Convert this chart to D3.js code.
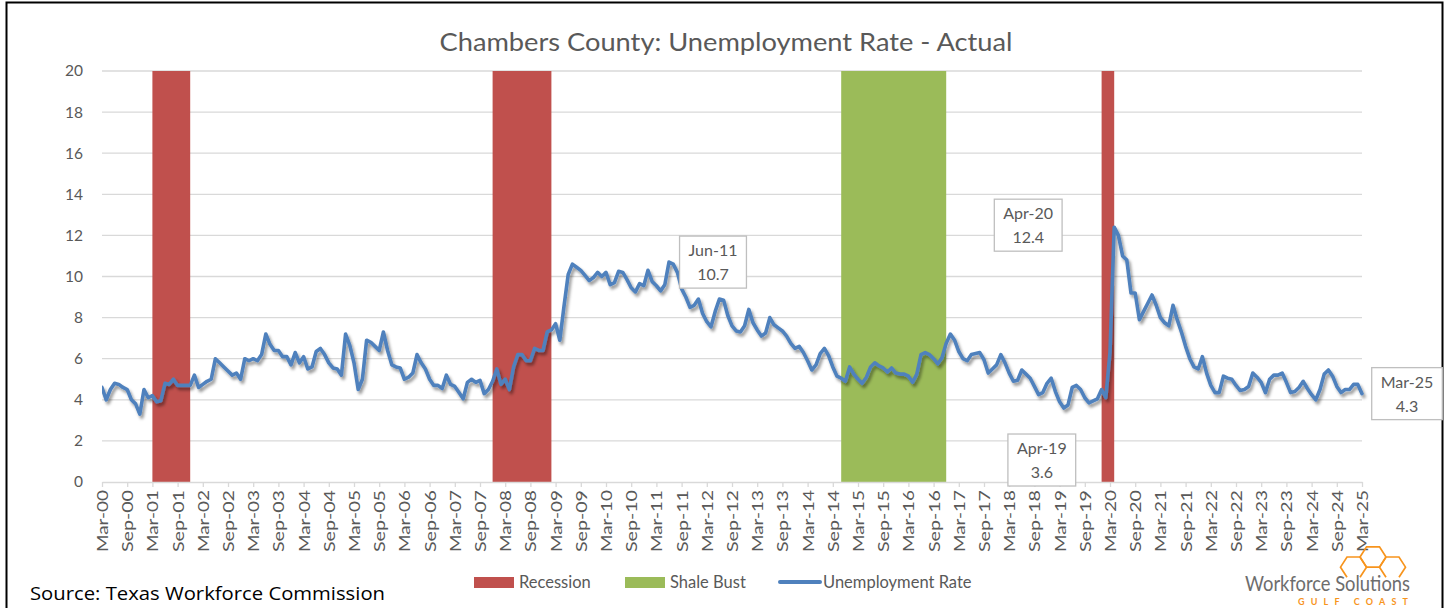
<!DOCTYPE html>
<html>
<head>
<meta charset="utf-8">
<script src="https://cdn.jsdelivr.net/npm/d3@7"></script>
<style>
  body { margin: 0; background: #fff; }
  svg { display: block; font-family: Lato, "Open Sans", sans-serif; }
</style>
</head>
<body>
<svg id="chart" width="1449" height="608"></svg>
<script>
// monthly series, Mar-00 .. Mar-25
var startMonth = new Date(2000, 2, 1);
var rate = [
  4.6, 4.0, 4.5, 4.8, 4.75, 4.6, 4.5, 4.0, 3.8, 3.3, 4.5, 4.1,
  4.2, 3.9, 3.95, 4.8, 4.75, 5.0, 4.7, 4.7, 4.7, 4.7, 5.2, 4.6,
  4.75, 4.9, 5.0, 6.0, 5.8, 5.6, 5.4, 5.2, 5.3, 5.0, 6.0, 5.9,
  6.0, 5.9, 6.2, 7.2, 6.7, 6.4, 6.4, 6.1, 6.1, 5.7, 6.3, 5.8,
  6.1, 5.5, 5.6, 6.35, 6.5, 6.2, 5.8, 5.55, 5.5, 5.2, 7.2, 6.65,
  5.8, 4.5, 5.0, 6.9, 6.8, 6.6, 6.4, 7.3, 6.4, 5.7, 5.6, 5.55,
  5.0, 5.1, 5.3, 6.2, 5.8, 5.5, 5.0, 4.7, 4.7, 4.55, 5.2, 4.75,
  4.65, 4.35, 4.05, 4.85, 5.0, 4.85, 4.95, 4.3, 4.5, 4.9, 5.5, 4.75,
  5.0, 4.5, 5.6, 6.2, 6.2, 5.9, 5.9, 6.5, 6.4, 6.4, 7.3, 7.4,
  7.7, 6.9, 8.55, 10.1, 10.6, 10.45, 10.3, 10.05, 9.8, 9.95, 10.2, 10.0,
  10.2, 9.6, 9.7, 10.25, 10.2, 9.85, 9.45, 9.25, 9.65, 9.55, 10.3, 9.75,
  9.55, 9.3, 9.6, 10.7, 10.6, 10.2, 9.4, 9.0, 8.5, 8.6, 8.9, 8.2,
  7.8, 7.55, 8.3, 8.9, 8.85, 8.1, 7.6, 7.35, 7.3, 7.6, 8.4, 7.75,
  7.4, 7.1, 7.25, 8.0, 7.65, 7.5, 7.35, 7.1, 6.75, 6.5, 6.6, 6.3,
  5.9, 5.45, 5.7, 6.25, 6.5, 6.15, 5.6, 5.15, 5.05, 4.9, 5.6, 5.25,
  5.0, 4.8, 5.1, 5.6, 5.8, 5.65, 5.55, 5.35, 5.55, 5.3, 5.25, 5.25,
  5.15, 4.85, 5.25, 6.2, 6.3, 6.2, 6.0, 5.75, 6.05, 6.75, 7.2, 6.9,
  6.35, 6.0, 5.9, 6.2, 6.25, 6.3, 5.95, 5.3, 5.5, 5.7, 6.2, 5.8,
  5.3, 4.9, 4.95, 5.45, 5.25, 5.05, 4.65, 4.25, 4.35, 4.8, 5.05, 4.4,
  3.9, 3.6, 3.75, 4.6, 4.7, 4.5, 4.1, 3.85, 3.95, 4.05, 4.5, 4.1,
  6.3, 12.4, 12.0, 11.0, 10.8, 9.2, 9.2, 7.9, 8.3, 8.7, 9.1, 8.6,
  8.0, 7.75, 7.6, 8.6, 7.9, 7.3, 6.6, 6.0, 5.6, 5.5, 6.1, 5.3,
  4.7, 4.35, 4.35, 5.15, 5.05, 5.0, 4.7, 4.45, 4.5, 4.65, 5.3, 5.1,
  4.85, 4.35, 5.0, 5.2, 5.2, 5.3, 4.85, 4.35, 4.4, 4.6, 4.9, 4.55,
  4.25, 4.0, 4.5, 5.25, 5.45, 5.15, 4.65, 4.35, 4.5, 4.5, 4.75, 4.75, 4.3
];

var recessions = [["Mar-01", "Dec-01"], ["Dec-07", "Feb-09"], ["Jan-20", "Apr-20"]];
var shaleBust = [["Nov-14", "Dec-16"]];
var yTicks = [0, 2, 4, 6, 8, 10, 12, 14, 16, 18, 20];
var callouts = ["Jun-11", "Apr-20", "Apr-19", "Mar-25"];
var legendItems = ["Recession", "Shale Bust", "Unemployment Rate"];

var title = "Chambers County: Unemployment Rate - Actual";
var source = "Source: Texas Workforce Commission";

var fmtMonth = d3.timeFormat("%b-%y");
var months = d3.timeMonth.range(startMonth, d3.timeMonth.offset(startMonth, rate.length)).map(fmtMonth);
var data = months.map(function(m, i) { return { month: m, value: rate[i] }; });

var red = "#c0504d", green = "#9bbb59", blue = "#4f81bd", grey = "#595959", gridColor = "#d9d9d9";

var svg = d3.select("#chart");

// frame
svg.append("rect")
  .attr("x", 6.5).attr("y", 2.5).attr("width", 1436).attr("height", 640)
  .attr("fill", "#fff").attr("stroke", "#000").attr("stroke-width", 2);

var defs = svg.append("defs");
var shadow = defs.append("filter").attr("id", "shadow")
  .attr("filterUnits", "userSpaceOnUse")
  .attr("x", 0).attr("y", 0).attr("width", 1449).attr("height", 608);
shadow.append("feDropShadow")
  .attr("dx", 2).attr("dy", 3).attr("stdDeviation", 1.8)
  .attr("flood-color", "#000").attr("flood-opacity", 0.4);

var margin = { top: 71, right: 87, bottom: 126, left: 102 },
    width = 1449 - margin.left - margin.right,
    height = 608 - margin.top - margin.bottom;

var g = svg.append("g").attr("transform", "translate(" + margin.left + "," + margin.top + ")");

var x = d3.scalePoint().domain(months).range([0, width]);
var y = d3.scaleLinear().domain([0, 20]).range([height, 0]);

// title
svg.append("text")
  .attr("x", 726).attr("y", 51)
  .attr("text-anchor", "middle")
  .attr("fill", grey)
  .style("font-size", "25px")
  .attr("textLength", 573).attr("lengthAdjust", "spacingAndGlyphs")
  .text(title);

// gridlines
g.selectAll(".grid")
  .data(yTicks.filter(function(d) { return d > 0; }))
  .enter().append("line")
    .attr("class", "grid")
    .attr("x1", 0).attr("x2", width)
    .attr("y1", function(d) { return y(d); })
    .attr("y2", function(d) { return y(d); })
    .attr("stroke", gridColor).attr("stroke-width", 1.3);

// y labels
g.selectAll(".ylab")
  .data(yTicks)
  .enter().append("text")
    .attr("class", "ylab")
    .attr("x", -19)
    .attr("y", function(d) { return y(d); })
    .attr("dy", "0.35em")
    .attr("text-anchor", "end")
    .attr("fill", grey)
    .style("font-size", "15.5px")
    .text(function(d) { return d; });

// bands
function drawBands(list, color) {
  g.selectAll(null)
    .data(list)
    .enter().append("rect")
      .attr("x", function(d) { return x(d[0]); })
      .attr("width", function(d) { return x(d[1]) - x(d[0]); })
      .attr("y", 0)
      .attr("height", height)
      .attr("fill", color);
}
drawBands(recessions, red);
drawBands(shaleBust, green);

// x axis
var xAxis = g.append("g")
  .attr("transform", "translate(0," + height + ")")
  .call(d3.axisBottom(x)
    .tickValues(months.filter(function(d, i) { return i % 6 === 0; }))
    .tickSize(5)
    .tickSizeOuter(0));

xAxis.select(".domain").attr("stroke", gridColor).attr("stroke-width", 1.3);
xAxis.selectAll(".tick line").attr("stroke", gridColor).attr("stroke-width", 1.3);
xAxis.selectAll(".tick text")
  .attr("transform", "rotate(-90)")
  .attr("x", -8).attr("y", 0).attr("dy", "0.36em")
  .attr("text-anchor", "end")
  .attr("fill", grey)
  .style("font-size", "15px")
  .style("font-family", "Lato, 'Open Sans', sans-serif")
  .attr("textLength", 62).attr("lengthAdjust", "spacingAndGlyphs");

// line
var line = d3.line()
  .x(function(d) { return x(d.month); })
  .y(function(d) { return y(d.value); });

g.append("path")
  .datum(data)
  .attr("d", line)
  .attr("fill", "none")
  .attr("stroke", blue)
  .attr("stroke-width", 3.6)
  .attr("stroke-linejoin", "round")
  .attr("stroke-linecap", "round")
  .attr("filter", "url(#shadow)");

// callouts
var calloutOffset = {
  "Jun-11": [44, 0],
  "Apr-20": [-86, -2],
  "Apr-19": [-22, 52],
  "Mar-25": [45, 0]
};
var fmtVal = d3.format(".1f");
callouts.forEach(function(m) {
  var d = data[months.indexOf(m)];
  var off = calloutOffset[m];
  var cx = x(d.month) + off[0], cy = y(d.value) + off[1];
  var box = g.append("g").attr("transform", "translate(" + cx + "," + cy + ")");
  var r = box.append("rect")
    .attr("fill", "#fff").attr("stroke", "#bfbfbf").attr("stroke-width", 1.3);
  var t1 = box.append("text").attr("y", -6).attr("text-anchor", "middle")
    .attr("fill", grey).style("font-size", "16px").text(d.month);
  var t2 = box.append("text").attr("y", 18).attr("text-anchor", "middle")
    .attr("fill", grey).style("font-size", "16px").text(fmtVal(d.value));
  var w = Math.max(t1.node().getComputedTextLength(), t2.node().getComputedTextLength()) + 18;
  r.attr("x", -w / 2).attr("y", -26).attr("width", w).attr("height", 52);
});

// legend
var legend = svg.append("g").attr("transform", "translate(0,582)");
var legendX = [474, 625, 778];
var legendColor = [red, green, blue];
legendItems.forEach(function(name, i) {
  var lx = legendX[i];
  if (i < 2) {
    legend.append("rect").attr("x", lx).attr("y", -5).attr("width", 40).attr("height", 11)
      .attr("fill", legendColor[i]);
  } else {
    legend.append("line").attr("x1", lx + 2).attr("x2", lx + 42).attr("y1", 0).attr("y2", 0)
      .attr("stroke", blue).attr("stroke-width", 4).attr("stroke-linecap", "round");
  }
  legend.append("text").attr("x", lx + 45).attr("y", 0).attr("dy", "0.35em")
    .attr("fill", grey).style("font-size", "16.5px").text(name);
});

// source
svg.append("text")
  .attr("x", 30).attr("y", 600)
  .attr("fill", "#000")
  .style("font-size", "19px")
  .style("font-family", "'Open Sans', Lato, sans-serif")
  .attr("textLength", 355).attr("lengthAdjust", "spacingAndGlyphs")
  .text(source);

// logo
var orange = "#f7941d";
var logo = svg.append("g");
function hexPts(cx, cy, r) {
  return d3.range(6).map(function(k) {
    var a = Math.PI / 3 * k;
    return [cx + r * Math.cos(a), cy + r * Math.sin(a) * 0.9];
  });
}
var hr = 13;
[[1373, 557], [1373 - 1.5 * hr, 557 + 0.78 * hr], [1373 + 1.5 * hr, 557 + 0.78 * hr]].forEach(function(c, i) {
  var pts = hexPts(c[0], c[1], hr);
  if (i > 0) pts = [pts[1], pts[0], pts[5], pts[4], pts[3], pts[2]];
  logo.append("path")
    .attr("d", d3.line()(i === 0 ? pts.concat([pts[0]]) : pts))
    .attr("fill", "none").attr("stroke", orange).attr("stroke-width", 1.7);
});
logo.append("text").attr("x", 1245).attr("y", 591)
  .attr("fill", "#6d6d6d").style("font-size", "21px")
  .attr("textLength", 165).attr("lengthAdjust", "spacingAndGlyphs")
  .text("Workforce Solutions");
logo.append("text").attr("x", 1298).attr("y", 605)
  .attr("fill", orange).style("font-size", "9px").style("font-weight", "bold")
  .attr("textLength", 110).attr("lengthAdjust", "spacing")
  .text("GULF COAST");
</script>
</body>
</html>
